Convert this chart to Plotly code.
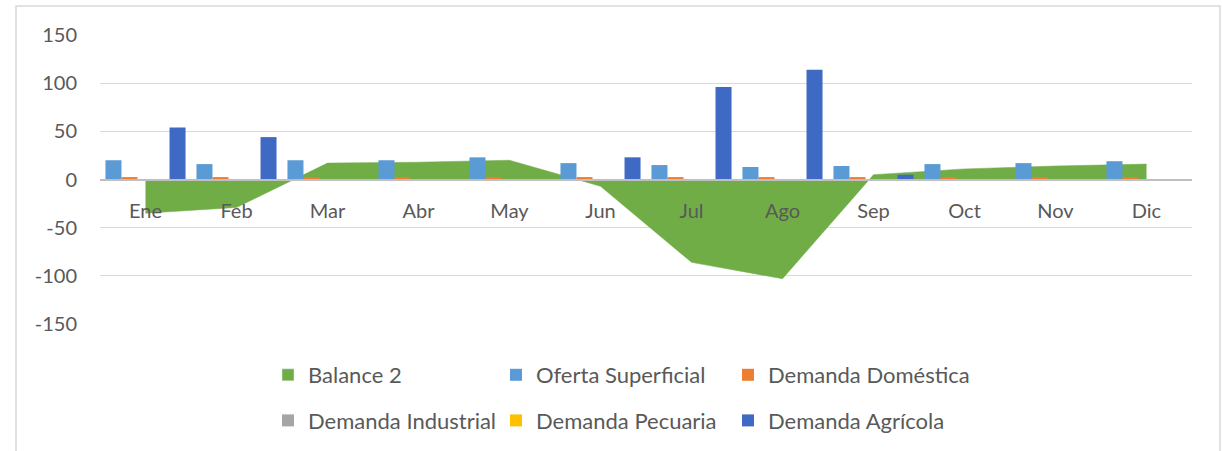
import plotly.graph_objects as go

months = ["Ene", "Feb", "Mar", "Abr", "May", "Jun", "Jul", "Ago", "Sep", "Oct", "Nov", "Dic"]
balance_2 = [-35, -29, 17, 18, 20, -7, -86, -103, 5, 11, 14, 16]
oferta_superficial = [20, 16, 20, 20, 23, 17, 15, 13, 14, 16, 17, 19]
demanda_domestica = [2.5, 2.5, 2.5, 2.5, 2.5, 2.5, 2.5, 2.5, 2.5, 2.5, 2.5, 2.5]
demanda_industrial = [0, 0, 0, 0, 0, 0, 0, 0, 0, 0, 0, 0]
demanda_pecuaria = [0, 0, 0, 0, 0, 0, 0, 0, 0, 0, 0, 0]
demanda_agricola = [54, 44, 0, 0, 0, 23, 96, 114, 5, 0, 0, 0]
y_ticks = [-150, -100, -50, 0, 50, 100, 150]
y_tick_labels = ["-150", "-100", "-50", "0", "50", "100", "150"]

FONT = "Lato"
TXT = "#595959"

fig = go.Figure()

# legend entry for the area (square swatch)
fig.add_trace(go.Bar(x=[None], y=[None], name="Balance 2", marker_color="#70AD47",
                     xaxis="x", yaxis="y", legend="legend", legendgroup="g0"))
# area
fig.add_trace(go.Scatter(x=months, y=balance_2, mode="lines", fill="tozeroy",
                         line=dict(color="#70AD47", width=0.5), fillcolor="#70AD47",
                         showlegend=False, hoverinfo="skip", xaxis="x", yaxis="y"))

bars = [
    ("Oferta Superficial", oferta_superficial, "#5B9BD5", "legend2"),
    ("Demanda Doméstica", demanda_domestica, "#ED7D31", "legend3"),
    ("Demanda Industrial", demanda_industrial, "#A5A5A5", "legend"),
    ("Demanda Pecuaria", demanda_pecuaria, "#FFC000", "legend2"),
    ("Demanda Agrícola", demanda_agricola, "#3F6AC4", "legend3"),
]
for i, (name, vals, col, lg) in enumerate(bars):
    fig.add_trace(go.Bar(x=months, y=vals, name=name, marker=dict(color=col, line=dict(width=0)),
                         xaxis="x2", yaxis="y2", legend=lg, legendgroup=f"g{i + 1}"))

W, H = 1222, 451
L, R, T, B = 100, 30, 35, 127
pw, ph = W - L - R, H - T - B

def px_x(p):
    return (p - L) / pw

def px_y(p):
    return (H - B - p) / ph

def cx(p):
    return p / W

def cy(p):
    return 1 - p / H

leg_common = dict(orientation="v", xanchor="left", yanchor="top",
                  xref="container", yref="container", y=cy(354),
                  bgcolor="rgba(0,0,0,0)", tracegroupgap=14,
                  font=dict(family=FONT, size=22, color=TXT), traceorder="grouped")

fig.update_layout(
    width=W, height=H,
    margin=dict(l=L, r=R, t=T, b=B, autoexpand=False),
    paper_bgcolor="white", plot_bgcolor="white",
    barmode="group", bargap=0.12, bargroupgap=0,
    font=dict(family=FONT, color=TXT, size=20),
    xaxis=dict(type="category", categoryorder="array", categoryarray=months,
               range=[-0.5, 11.5], anchor="free", position=0.5,
               showline=True, linecolor="#BFBFBF", linewidth=1.5,
               showgrid=False, zeroline=False, ticks="",
               ticklabelstandoff=14, tickfont=dict(family=FONT, size=20, color=TXT)),
    xaxis2=dict(type="category", categoryorder="array", categoryarray=months,
                range=[-0.5, 11.5], overlaying="x", anchor="y2", visible=False),
    yaxis=dict(range=[-150, 150], tickvals=y_ticks, ticktext=y_tick_labels,
               showgrid=True, gridcolor="#D9D9D9",
               gridwidth=1, zeroline=False, showline=False, ticks="",
               ticklabelstandoff=22, tickfont=dict(family=FONT, size=20, color=TXT)),
    yaxis2=dict(range=[-150, 150], overlaying="y", visible=False),
    legend=dict(x=cx(268), **leg_common),
    legend2=dict(x=cx(496), **leg_common),
    legend3=dict(x=cx(728), **leg_common),
    shapes=[dict(type="rect", xref="paper", yref="paper",
                 x0=px_x(16), x1=px_x(1220), y0=px_y(470), y1=px_y(6),
                 line=dict(color="#D9D9D9", width=1.5), fillcolor="rgba(0,0,0,0)",
                 layer="below")],
)

fig.write_html("out.html", config={"displayModeBar": False},
               post_script="document.body.style.margin='0';")
